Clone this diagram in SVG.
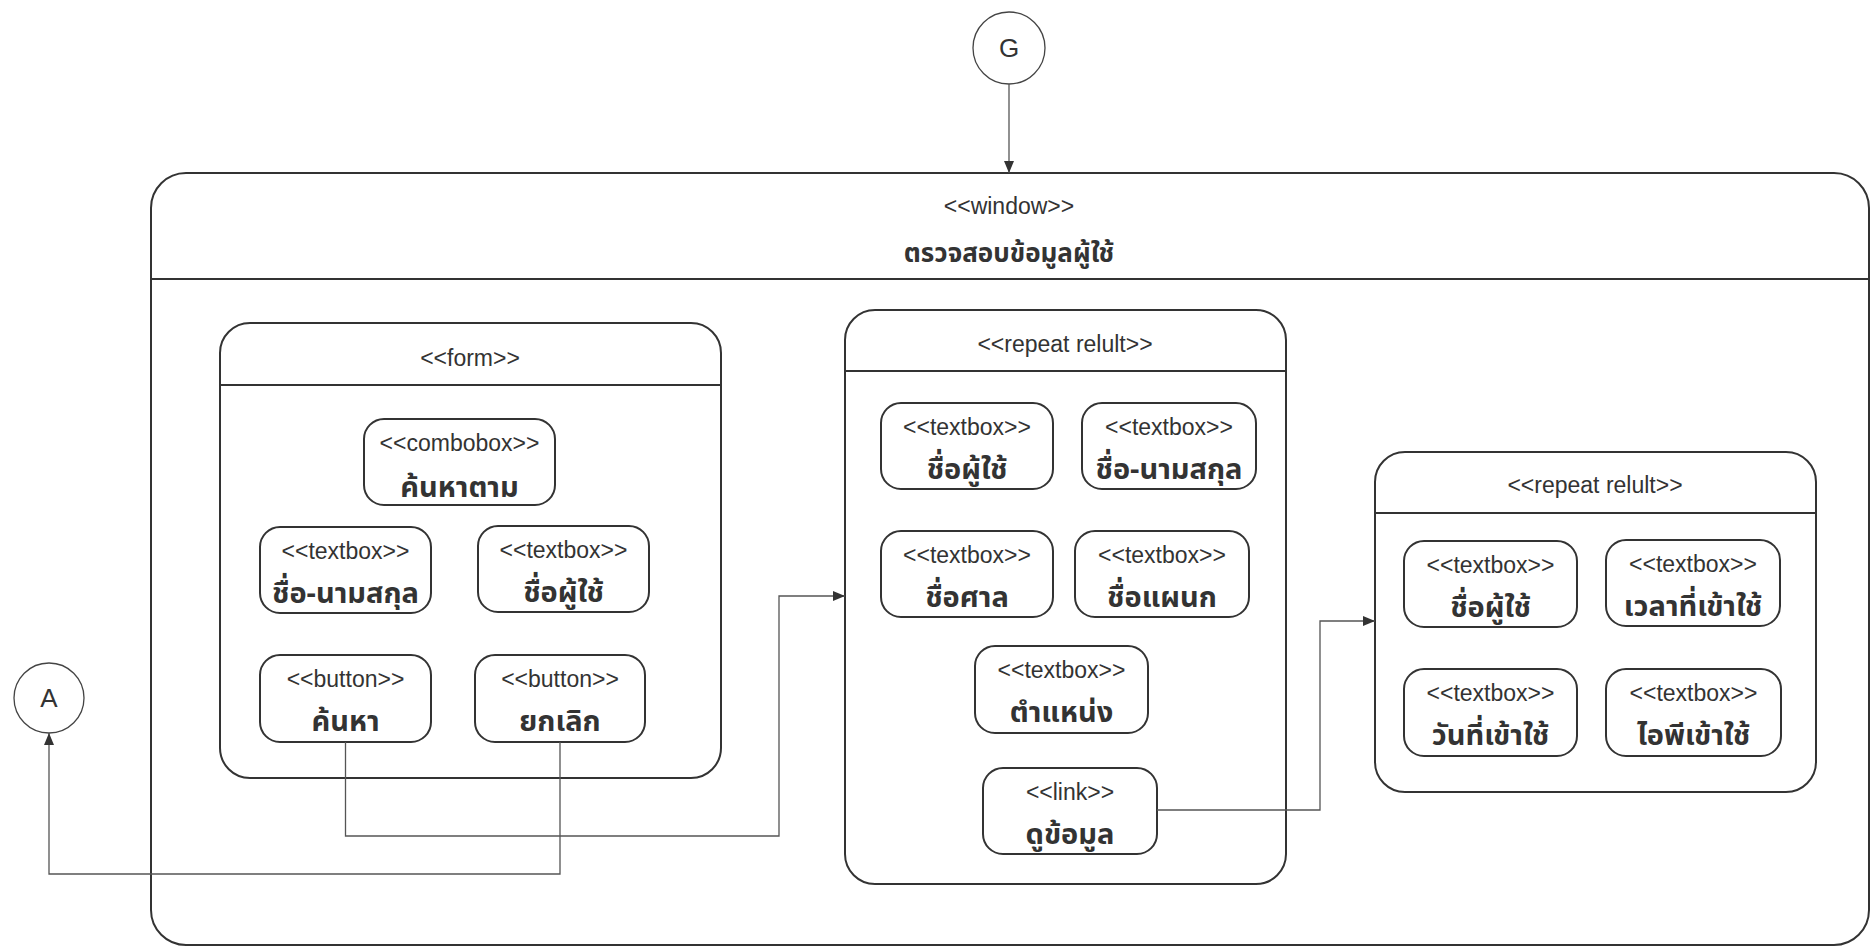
<svg xmlns="http://www.w3.org/2000/svg" width="1872" height="948" viewBox="0 0 1872 948">
<style>
.frame{fill:none;stroke:#333;stroke-width:2}
.node{fill:#fff;stroke:#333;stroke-width:2}
.circ{fill:#fff;stroke:#444;stroke-width:1.3}
.st{font-family:"Liberation Sans",Arial,sans-serif;font-size:23px;fill:#333;text-anchor:middle}
.th{font-family:"Noto Sans Thai","Tahoma","Noto Sans","DejaVu Sans",sans-serif;font-size:29px;font-weight:bold;fill:#333;text-anchor:middle}
.tt{font-family:"Noto Sans Thai","Tahoma","Noto Sans","DejaVu Sans",sans-serif;font-size:26px;font-weight:bold;fill:#333;text-anchor:middle}
.conn{fill:none;stroke:#555;stroke-width:1.3}
.lbl{font-family:"Liberation Sans",Arial,sans-serif;font-size:26px;fill:#333;text-anchor:middle}
</style>
<defs>
<marker id="arr" viewBox="0 0 12 10" refX="12" refY="5" markerWidth="12" markerHeight="10" markerUnits="userSpaceOnUse" orient="auto">
<path d="M0,0 L12,5 L0,10 Z" fill="#333"/>
</marker>
</defs>
<rect width="1872" height="948" fill="#fff"/>

<g id="window">
<rect class="frame" x="151" y="173" width="1718" height="772" rx="35" ry="35"/>
<line class="frame" x1="151" y1="279" x2="1869" y2="279"/>
<text class="st" x="1009" y="214">&lt;&lt;window&gt;&gt;</text>
<text class="tt" x="1009" y="262">ตรวจสอบข้อมูลผู้ใช้</text>
</g>

<g id="form">
<rect class="frame" x="220" y="323" width="501" height="455" rx="30" ry="30"/>
<line class="frame" x1="220" y1="385" x2="721" y2="385"/>
<text class="st" x="470" y="366">&lt;&lt;form&gt;&gt;</text>
</g>
<g id="combobox-search">
<rect class="node" x="364" y="419" width="191" height="86" rx="20" ry="20"/>
<text class="st" x="459.5" y="451">&lt;&lt;combobox&gt;&gt;</text>
<text class="th" x="459.5" y="497">ค้นหาตาม</text>
</g>
<g id="form-fullname">
<rect class="node" x="260" y="527" width="171" height="86" rx="20" ry="20"/>
<text class="st" x="345.5" y="559">&lt;&lt;textbox&gt;&gt;</text>
<text class="th" x="345.5" y="603">ชื่อ-นามสกุล</text>
</g>
<g id="form-username">
<rect class="node" x="478" y="526" width="171" height="86" rx="20" ry="20"/>
<text class="st" x="563.5" y="558">&lt;&lt;textbox&gt;&gt;</text>
<text class="th" x="563.5" y="602">ชื่อผู้ใช้</text>
</g>
<g id="btn-search">
<rect class="node" x="260" y="655" width="171" height="87" rx="20" ry="20"/>
<text class="st" x="345.5" y="687">&lt;&lt;button&gt;&gt;</text>
<text class="th" x="345.5" y="731">ค้นหา</text>
</g>
<g id="btn-cancel">
<rect class="node" x="475" y="655" width="170" height="87" rx="20" ry="20"/>
<text class="st" x="560" y="687">&lt;&lt;button&gt;&gt;</text>
<text class="th" x="560" y="731">ยกเลิก</text>
</g>

<g id="repeat1">
<rect class="frame" x="845" y="310" width="441" height="574" rx="30" ry="30"/>
<line class="frame" x1="845" y1="371" x2="1286" y2="371"/>
<text class="st" x="1065" y="352">&lt;&lt;repeat relult&gt;&gt;</text>
</g>
<g id="r1-username">
<rect class="node" x="881" y="403" width="172" height="86" rx="20" ry="20"/>
<text class="st" x="967" y="435">&lt;&lt;textbox&gt;&gt;</text>
<text class="th" x="967" y="479">ชื่อผู้ใช้</text>
</g>
<g id="r1-fullname">
<rect class="node" x="1082" y="403" width="174" height="86" rx="20" ry="20"/>
<text class="st" x="1169" y="435">&lt;&lt;textbox&gt;&gt;</text>
<text class="th" x="1169" y="479">ชื่อ-นามสกุล</text>
</g>
<g id="r1-court">
<rect class="node" x="881" y="531" width="172" height="86" rx="20" ry="20"/>
<text class="st" x="967" y="563">&lt;&lt;textbox&gt;&gt;</text>
<text class="th" x="967" y="607">ชื่อศาล</text>
</g>
<g id="r1-dept">
<rect class="node" x="1075" y="531" width="174" height="86" rx="20" ry="20"/>
<text class="st" x="1162" y="563">&lt;&lt;textbox&gt;&gt;</text>
<text class="th" x="1162" y="607">ชื่อแผนก</text>
</g>
<g id="r1-position">
<rect class="node" x="975" y="646" width="173" height="87" rx="20" ry="20"/>
<text class="st" x="1061.5" y="678">&lt;&lt;textbox&gt;&gt;</text>
<text class="th" x="1061.5" y="722">ตำแหน่ง</text>
</g>
<g id="r1-link">
<rect class="node" x="983" y="768" width="174" height="86" rx="20" ry="20"/>
<text class="st" x="1070" y="800">&lt;&lt;link&gt;&gt;</text>
<text class="th" x="1070" y="844">ดูข้อมูล</text>
</g>

<g id="repeat2">
<rect class="frame" x="1375" y="452" width="441" height="340" rx="30" ry="30"/>
<line class="frame" x1="1375" y1="513" x2="1816" y2="513"/>
<text class="st" x="1595" y="493">&lt;&lt;repeat relult&gt;&gt;</text>
</g>
<g id="r2-username">
<rect class="node" x="1404" y="541" width="173" height="86" rx="20" ry="20"/>
<text class="st" x="1490.5" y="573">&lt;&lt;textbox&gt;&gt;</text>
<text class="th" x="1490.5" y="617">ชื่อผู้ใช้</text>
</g>
<g id="r2-logintime">
<rect class="node" x="1606" y="540" width="174" height="86" rx="20" ry="20"/>
<text class="st" x="1693" y="572">&lt;&lt;textbox&gt;&gt;</text>
<text class="th" x="1693" y="616">เวลาที่เข้าใช้</text>
</g>
<g id="r2-logindate">
<rect class="node" x="1404" y="669" width="173" height="87" rx="20" ry="20"/>
<text class="st" x="1490.5" y="701">&lt;&lt;textbox&gt;&gt;</text>
<text class="th" x="1490.5" y="745">วันที่เข้าใช้</text>
</g>
<g id="r2-ip">
<rect class="node" x="1606" y="669" width="175" height="87" rx="20" ry="20"/>
<text class="st" x="1693.5" y="701">&lt;&lt;textbox&gt;&gt;</text>
<text class="th" x="1693.5" y="745">ไอพีเข้าใช้</text>
</g>

<g id="connector-G">
<circle class="circ" cx="1009" cy="48" r="36"/>
<text class="lbl" x="1009" y="57">G</text>
</g>
<g id="connector-A">
<circle class="circ" cx="49" cy="698" r="35"/>
<text class="lbl" x="49" y="707">A</text>
</g>

<g id="connectors">
<path class="conn" d="M1009,84 L1009,173" marker-end="url(#arr)"/>
<path class="conn" d="M345.5,742 L345.5,836 L779,836 L779,596 L845,596" marker-end="url(#arr)"/>
<path class="conn" d="M560,742 L560,874 L49,874 L49,733" marker-end="url(#arr)"/>
<path class="conn" d="M1157,810 L1320,810 L1320,621 L1375,621" marker-end="url(#arr)"/>
</g>
</svg>
